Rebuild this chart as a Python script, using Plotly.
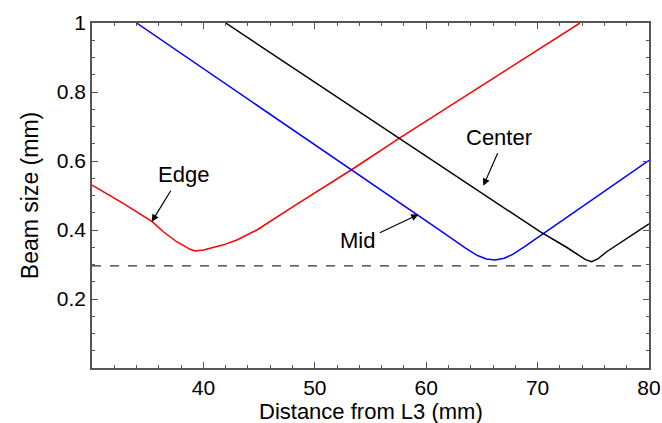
import plotly.graph_objects as go

# Data
edge_x = [30.0, 32.8, 35.4, 36.4, 37.6, 38.8, 39.25, 40.0, 41.8, 43.0, 44.8, 46.6, 47.8, 53.5, 57.6, 73.8]
edge_y = [0.530, 0.477, 0.424, 0.395, 0.366, 0.344, 0.339, 0.342, 0.357, 0.371, 0.400, 0.439, 0.463, 0.579, 0.666, 1.0]

mid_x = [34.0, 53.46, 61.24, 63.5, 64.6, 65.4, 66.18, 67.0, 67.8, 68.9, 70.22, 80.0]
mid_y = [1.0, 0.572, 0.399, 0.348, 0.326, 0.316, 0.313, 0.318, 0.330, 0.353, 0.383, 0.602]

center_x = [42.0, 57.6, 70.22, 72.6, 73.6, 74.3, 74.86, 75.4, 76.2, 80.0]
center_y = [1.0, 0.666, 0.395, 0.350, 0.328, 0.314, 0.308, 0.316, 0.337, 0.418]

ref_level = 0.296

x_ticks = [40, 50, 60, 70, 80]
y_ticks = [0.2, 0.4, 0.6, 0.8, 1.0]
y_ticktext = ["0.2", "0.4", "0.6", "0.8", "1"]

FONT = "Liberation Sans, Arial, sans-serif"

fig = go.Figure()
fig.add_trace(go.Scatter(x=[30, 80], y=[ref_level, ref_level], mode="lines",
                         line=dict(color="#333333", width=1.2, dash="dash"), showlegend=False))
fig.add_trace(go.Scatter(x=edge_x, y=edge_y, mode="lines", line=dict(color="#ff0000", width=1.5), showlegend=False))
fig.add_trace(go.Scatter(x=mid_x, y=mid_y, mode="lines", line=dict(color="#0000ff", width=1.5), showlegend=False))
fig.add_trace(go.Scatter(x=center_x, y=center_y, mode="lines", line=dict(color="#000000", width=1.5), showlegend=False))

labels = [
    dict(text="Edge", tx=38.17, ty=0.562, hx=35.36, hy=0.424, sx=37.15, sy=0.518),
    dict(text="Center", tx=66.53, ty=0.667, hx=65.13, hy=0.528, sx=66.47, sy=0.627),
    dict(text="Mid", tx=53.8, ty=0.37, hx=59.3, hy=0.445, sx=55.7, sy=0.39),
]
for lab in labels:
    fig.add_annotation(x=lab["tx"], y=lab["ty"], text=lab["text"], showarrow=False,
                       font=dict(family=FONT, size=22, color="black"))
    fig.add_annotation(x=lab["hx"], y=lab["hy"], ax=lab["sx"], ay=lab["sy"], axref="x", ayref="y",
                       text="", showarrow=True, arrowhead=2, arrowsize=1.2, arrowwidth=1.2, arrowcolor="black")

# axis title for x as paper annotation to control its position
fig.add_annotation(x=0.5, y=-0.125, xref="paper", yref="paper", yanchor="middle", showarrow=False,
                   borderpad=0, text="Distance from L3 (mm)", font=dict(family=FONT, size=22, color="black"))

axis_common = dict(showline=True, linecolor="#555555", linewidth=1.5, mirror="allticks",
                   ticks="inside", ticklen=6, tickcolor="#555555", showgrid=False, zeroline=False,
                   automargin=False, tickfont=dict(family=FONT, size=21, color="black"))

fig.update_xaxes(range=[30, 80], tickvals=x_ticks,
                 minor=dict(dtick=2, ticks="inside", ticklen=3, tickcolor="#555555"),
                 **axis_common)
fig.update_yaxes(range=[0, 1], tickvals=y_ticks, ticktext=y_ticktext,
                 minor=dict(dtick=0.05, ticks="inside", ticklen=3, tickcolor="#555555"),
                 title=dict(text="Beam size (mm)", font=dict(family=FONT, size=23, color="black"), standoff=12),
                 **axis_common)

fig.update_layout(width=662, height=423, margin=dict(l=92, r=13, t=23, b=55),
                  plot_bgcolor="white", paper_bgcolor="white")
fig.write_html("out.html")
